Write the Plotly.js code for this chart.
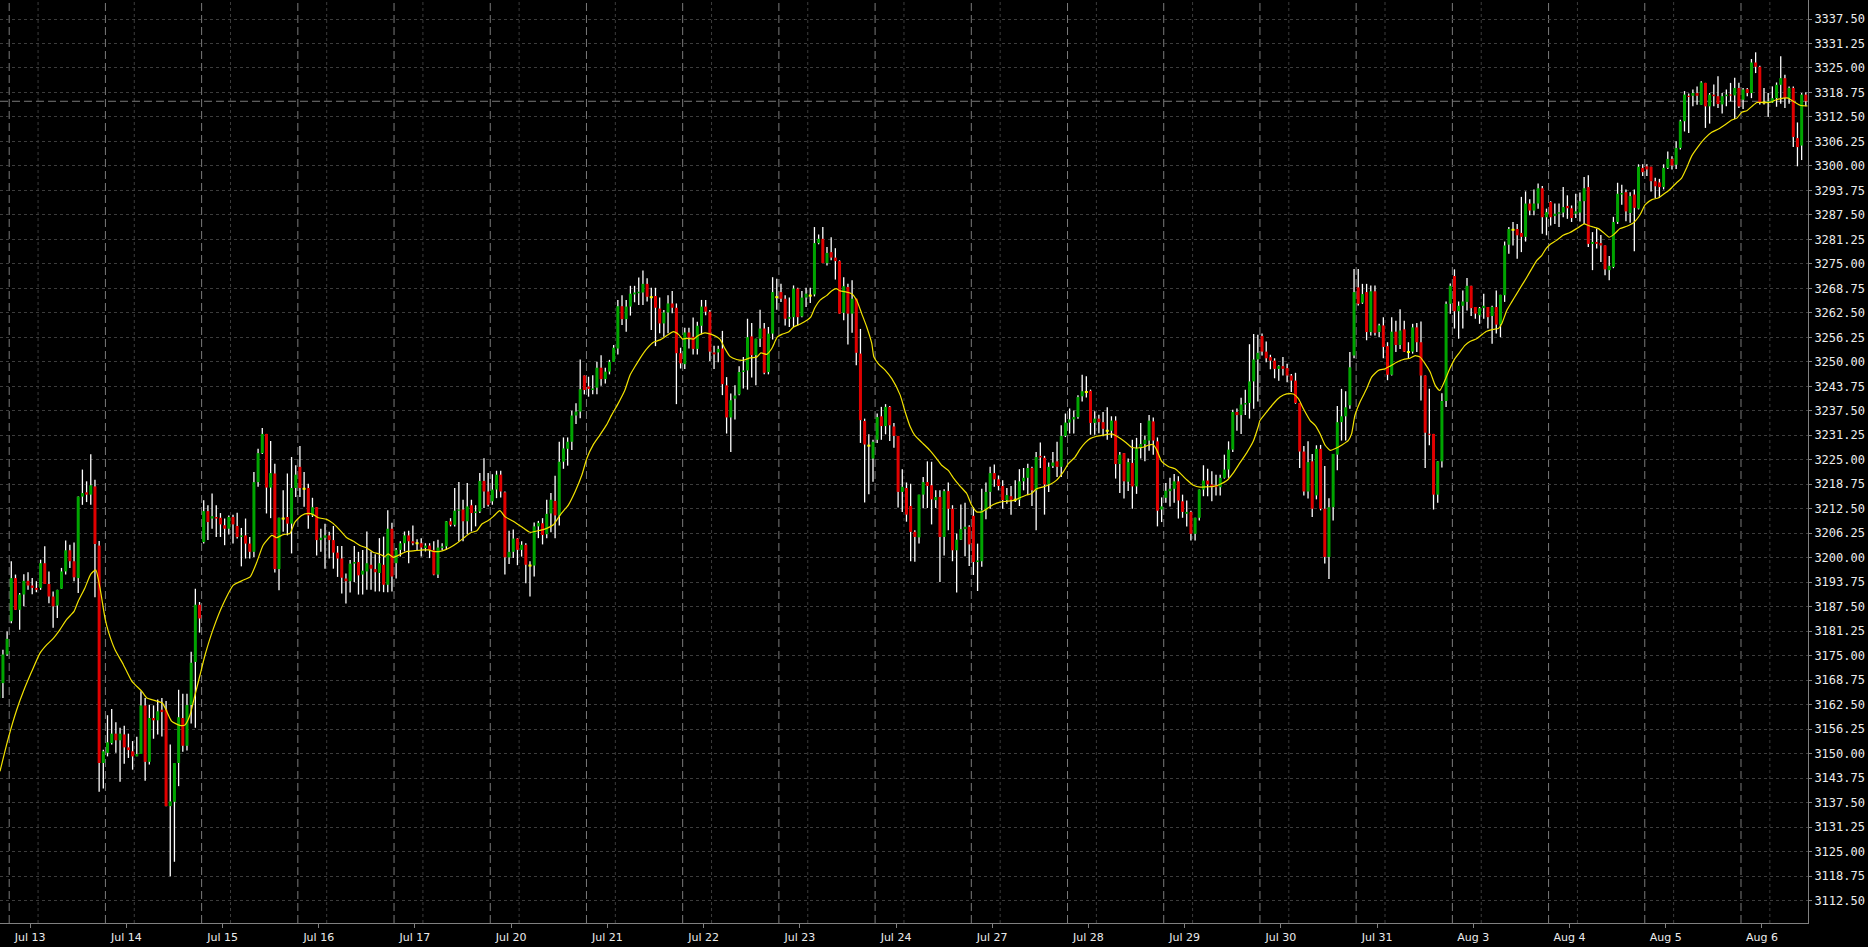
<!DOCTYPE html>
<html>
<head>
<meta charset="utf-8">
<script src="https://cdn.plot.ly/plotly-3.0.1.min.js"></script>
<style>
html,body{margin:0;padding:0;background:#000;}
#chart{width:1868px;height:947px;}
</style>
</head>
<body>
<div id="chart"></div>
<script>
// ---------- DATA (hourly bars) ----------
const dayLabels = ["Jul 13","Jul 14","Jul 15","Jul 16","Jul 17","Jul 20","Jul 21","Jul 22","Jul 23","Jul 24","Jul 27","Jul 28","Jul 29","Jul 30","Jul 31","Aug 3","Aug 4","Aug 5","Aug 6"];
const preBars = 3;   // bars of the previous session visible at the left edge
const barsPerDay = [23,23,23,23,23,23,23,23,23,23,23,23,23,23,23,23,23,23,16];

const open = [
3164.2,3168.0,3175.3,
3183.8,3194.8,3186.7,3190.6,3194.1,3192.9,3192.3,3192.3,3198.6,3193.3,3190.1,3187.8,3192.1,3196.5,3201.9,3199.1,3194.8,3215.6,3216.7,3216.1,3218.2,3203.1,3147.6,
3150.2,3152.7,3155.1,3153.4,3154.9,3151.6,3150.6,3149.3,3149.9,3162.3,3147.9,3159.1,3158.5,3161.2,3161.2,3136.6,3137.7,3147.6,3159.1,3152.0,3162.4,3173.4,3188.0,
3204.0,3211.9,3210.0,3210.4,3210.2,3208.3,3207.4,3210.4,3208.1,3205.3,3205.7,3203.6,3201.5,3219.3,3226.7,3231.6,3217.9,3221.5,3197.1,3210.0,3210.4,3208.7,3217.8,
3223.2,3217.6,3217.8,3210.8,3212.9,3204.5,3205.1,3205.7,3204.5,3201.3,3199.8,3194.7,3194.0,3198.5,3198.9,3195.7,3196.5,3198.2,3197.1,3196.1,3198.2,3193.1,3207.4,
3198.6,3202.0,3203.7,3205.7,3204.2,3203.7,3203.7,3202.5,3203.1,3202.0,3195.7,3202.5,3202.9,3209.3,3208.4,3212.0,3212.3,3209.3,3213.4,3211.4,3211.8,3219.6,3216.9,
3214.4,3217.4,3221.2,3216.7,3200.1,3201.5,3204.9,3202.0,3203.3,3198.0,3198.0,3208.0,3208.8,3206.0,3211.3,3214.5,3210.8,3224.5,3227.8,3229.6,3236.3,3237.3,3246.5,
3243.7,3242.8,3243.4,3248.5,3245.6,3247.5,3250.0,3253.4,3264.2,3260.9,3264.1,3267.2,3267.5,3267.7,3269.9,3266.5,3266.8,3263.6,3259.8,3262.6,3264.9,3263.8,3252.2,
3249.4,3257.5,3256.4,3253.3,3259.2,3264.1,3262.8,3252.4,3252.4,3253.4,3244.0,3235.8,3240.6,3241.7,3247.4,3247.8,3256.5,3251.7,3255.9,3258.5,3247.4,3257.2,3266.5,
3267.8,3266.1,3261.0,3261.4,3268.7,3261.6,3266.4,3266.9,3267.2,3280.3,3281.4,3275.2,3278.0,3276.6,3275.7,3262.5,3269.1,3262.3,3266.1,3252.1,3234.9,3228.6,3225.3,
3230.1,3236.1,3233.6,3238.5,3233.5,3231.1,3216.8,3217.8,3213.2,3206.6,3205.2,3216.1,3219.3,3218.5,3214.7,3215.5,3205.3,3217.0,3212.5,3201.9,3204.6,3207.3,3207.9,
3210.7,3198.9,3199.1,3212.1,3216.8,3221.6,3220.0,3218.3,3214.7,3215.7,3214.8,3214.8,3219.5,3220.4,3222.9,3217.2,3226.0,3225.5,3218.7,3223.4,3224.6,3223.2,3231.1,
3234.5,3235.3,3235.9,3241.2,3242.3,3242.6,3234.4,3235.5,3234.6,3232.4,3232.4,3235.0,3223.9,3226.7,3219.4,3224.2,3218.2,3228.0,3229.0,3229.9,3234.8,3229.7,3212.3,
3215.3,3217.0,3217.6,3219.5,3214.4,3211.2,3211.7,3206.1,3210.2,3217.4,3219.7,3218.7,3218.5,3218.0,3220.4,3222.5,3227.6,3237.2,3236.4,3239.1,3239.5,3245.0,3250.6,
3256.6,3252.6,3251.2,3250.3,3248.2,3248.9,3248.4,3246.5,3245.2,3239.5,3227.1,3216.9,3224.6,3215.9,3227.8,3212.5,3200.2,3212.9,3226.3,3234.6,3236.1,3238.9,3251.6,
3269.0,3265.1,3267.8,3257.6,3268.0,3257.6,3259.3,3254.0,3246.7,3257.7,3254.3,3258.3,3252.5,3252.6,3258.8,3255.0,3246.5,3231.6,3231.6,3216.1,3224.6,3240.0,3264.8,
3271.9,3262.9,3264.3,3265.3,3269.4,3264.0,3261.9,3263.7,3264.0,3261.7,3264.0,3259.5,3267.0,3279.9,3283.7,3283.9,3282.9,3281.9,3290.4,3288.6,3290.4,3294.3,3286.9,
3290.8,3287.2,3287.8,3288.1,3289.8,3289.2,3287.8,3288.1,3291.0,3294.6,3280.1,3280.6,3280.3,3279.7,3273.4,3274.2,3285.7,3292.7,3293.3,3288.0,3292.7,3289.1,3299.5,
3299.9,3299.8,3296.1,3295.8,3294.6,3299.5,3301.8,3300.3,3304.6,3311.4,3317.9,3317.9,3318.6,3315.6,3321.2,3315.2,3318.2,3317.8,3315.7,3317.8,3318.2,3318.0,3319.9,
3316.9,3319.6,3318.6,3326.4,3325.3,3316.2,3316.1,3316.2,3317.3,3320.7,3322.4,3317.3,3319.9,3307.1,3305.2,3318.2
];
const high = [
3170.2,3176.5,3181.2,
3199.1,3195.7,3191.0,3195.8,3196.3,3194.8,3194.0,3199.5,3202.9,3196.5,3191.4,3191.8,3197.4,3204.4,3203.3,3203.9,3215.6,3222.5,3219.5,3226.4,3219.9,3204.3,3151.0,
3159.8,3161.4,3158.0,3156.6,3157.1,3155.1,3153.2,3154.3,3165.9,3164.2,3162.5,3162.3,3163.8,3164.2,3163.4,3152.3,3147.6,3166.3,3165.3,3165.3,3176.0,3192.1,3188.7,
3214.7,3213.4,3216.4,3213.4,3211.4,3210.0,3210.8,3211.0,3211.5,3207.6,3210.0,3205.3,3221.9,3227.8,3233.1,3231.6,3229.8,3224.0,3210.2,3217.2,3221.5,3225.7,3223.6,
3228.5,3221.9,3218.9,3215.3,3212.9,3207.4,3208.7,3206.6,3208.1,3203.0,3203.0,3196.0,3199.4,3203.0,3201.5,3202.0,3206.7,3201.6,3200.9,3205.0,3205.4,3212.1,3208.9,
3202.5,3204.2,3206.7,3206.9,3208.2,3204.7,3205.0,3203.7,3203.7,3204.2,3204.6,3203.7,3209.4,3210.1,3217.8,3219.3,3214.8,3219.1,3214.8,3213.4,3221.6,3225.4,3221.6,
3221.3,3222.2,3222.2,3216.9,3206.9,3207.2,3205.0,3204.2,3203.7,3199.1,3209.0,3209.4,3210.1,3214.8,3216.5,3220.9,3229.6,3230.7,3230.7,3237.5,3239.4,3250.6,3246.5,
3246.2,3246.6,3250.0,3251.7,3248.5,3250.5,3254.3,3265.8,3267.0,3265.8,3269.4,3269.4,3271.5,3273.3,3271.3,3268.9,3268.9,3266.4,3263.2,3267.0,3268.1,3264.9,3253.6,
3258.7,3258.7,3261.3,3260.2,3265.8,3265.8,3263.2,3254.1,3254.1,3257.9,3246.1,3241.9,3244.0,3248.9,3251.2,3261.0,3259.9,3255.9,3263.3,3259.9,3258.9,3271.6,3271.2,
3269.9,3267.0,3266.4,3269.5,3268.9,3268.1,3268.9,3268.9,3284.4,3282.5,3284.4,3279.3,3281.8,3279.0,3275.9,3271.6,3269.9,3270.8,3266.1,3258.4,3235.5,3231.5,3230.1,
3236.8,3238.5,3239.2,3238.7,3234.4,3231.1,3222.6,3219.2,3218.9,3207.0,3216.1,3220.6,3224.6,3224.5,3217.2,3217.2,3217.5,3219.2,3213.4,3206.2,3213.6,3214.0,3208.3,
3212.9,3203.6,3217.6,3219.2,3223.2,3223.8,3221.0,3219.8,3217.8,3218.3,3219.8,3222.6,3222.9,3224.0,3223.2,3227.0,3229.4,3226.0,3224.3,3227.0,3229.6,3233.8,3236.8,
3238.1,3237.6,3241.5,3246.7,3246.3,3242.9,3237.4,3236.5,3237.2,3238.4,3236.1,3236.1,3227.0,3226.7,3225.3,3230.1,3230.6,3234.4,3231.2,3236.4,3235.8,3230.7,3215.4,
3219.1,3220.4,3221.4,3220.8,3216.1,3214.6,3212.0,3210.2,3217.4,3223.6,3222.7,3222.1,3221.2,3221.2,3226.3,3229.7,3237.8,3238.1,3240.8,3242.9,3254.5,3257.1,3256.9,
3257.2,3255.2,3251.8,3250.9,3249.1,3251.2,3249.5,3246.9,3247.2,3239.5,3228.5,3229.7,3226.5,3228.7,3228.8,3223.4,3215.2,3226.5,3238.7,3243.1,3242.5,3252.5,3273.7,
3273.7,3269.9,3269.9,3269.5,3269.5,3259.7,3261.4,3255.0,3261.4,3260.5,3263.4,3260.5,3255.0,3259.7,3259.9,3260.3,3246.5,3243.1,3231.6,3224.6,3242.0,3265.4,3270.0,
3273.6,3265.4,3268.2,3271.4,3269.4,3264.0,3264.0,3267.4,3264.0,3264.3,3268.2,3267.1,3280.7,3284.4,3285.7,3285.2,3292.1,3293.5,3291.5,3294.0,3295.5,3294.9,3289.1,
3291.0,3290.4,3290.4,3294.6,3292.5,3289.9,3292.9,3293.2,3297.2,3297.6,3283.1,3284.0,3282.4,3279.7,3277.0,3287.0,3295.7,3295.2,3294.0,3293.3,3294.0,3300.4,3300.4,
3300.4,3299.8,3297.0,3296.7,3300.4,3303.7,3302.5,3306.3,3311.8,3319.1,3318.5,3319.5,3320.3,3321.6,3321.2,3318.6,3320.8,3322.9,3318.6,3319.5,3321.2,3322.5,3321.2,
3319.9,3319.9,3327.3,3329.0,3325.6,3319.9,3318.6,3320.3,3321.3,3328.0,3323.3,3320.3,3320.3,3311.1,3318.6,3318.8
];
const low = [
3160.8,3164.2,3175.0,
3183.3,3186.7,3181.6,3187.6,3191.8,3190.7,3191.2,3191.8,3193.3,3188.4,3182.1,3184.6,3192.1,3195.7,3197.4,3194.0,3191.0,3213.5,3214.2,3213.5,3189.9,3140.3,3141.1,
3149.3,3152.3,3150.2,3142.8,3147.4,3148.9,3145.9,3149.3,3149.9,3143.1,3147.2,3153.8,3154.9,3154.4,3136.6,3118.7,3122.4,3141.7,3150.5,3150.8,3157.7,3156.6,3180.9,
3203.6,3204.5,3207.4,3205.3,3205.3,3203.2,3205.9,3203.6,3204.9,3197.8,3199.8,3199.8,3200.2,3218.1,3226.5,3211.3,3210.1,3196.2,3191.7,3206.6,3205.7,3201.1,3215.5,
3215.5,3213.0,3207.4,3210.4,3200.6,3201.5,3197.2,3199.8,3197.2,3195.1,3190.9,3188.3,3191.1,3193.8,3190.6,3190.6,3191.8,3191.8,3191.4,3191.4,3191.2,3191.2,3191.4,
3194.7,3200.3,3201.6,3198.6,3203.2,3202.0,3200.3,3201.6,3199.9,3195.5,3194.8,3202.0,3202.0,3208.0,3208.0,3204.2,3204.2,3206.0,3206.7,3208.0,3211.4,3212.7,3213.1,
3213.5,3215.2,3215.4,3195.7,3198.4,3199.9,3198.1,3200.3,3193.5,3190.1,3195.2,3205.0,3203.4,3205.0,3206.5,3205.0,3208.2,3222.7,3223.5,3227.5,3234.1,3235.6,3241.7,
3241.1,3241.7,3241.7,3243.9,3244.5,3246.8,3250.0,3251.9,3259.4,3257.7,3261.8,3265.2,3264.5,3264.5,3265.4,3258.1,3254.0,3257.3,3256.4,3257.3,3262.4,3239.2,3248.3,
3248.2,3253.4,3251.9,3251.9,3257.0,3261.9,3250.2,3248.2,3249.9,3241.5,3231.7,3227.0,3235.3,3241.5,3243.2,3242.9,3246.0,3244.0,3253.8,3246.8,3246.8,3255.7,3263.3,
3265.3,3259.3,3258.9,3258.9,3259.3,3261.4,3264.0,3265.0,3266.7,3280.0,3275.2,3274.6,3275.9,3271.0,3262.3,3260.6,3254.4,3257.4,3249.1,3229.3,3214.1,3216.2,3219.4,
3229.3,3230.1,3231.5,3229.8,3228.1,3212.8,3211.7,3209.2,3199.1,3199.0,3203.6,3212.6,3212.7,3208.5,3212.7,3193.8,3200.6,3207.0,3199.1,3191.1,3204.5,3200.4,3197.9,
3195.6,3191.5,3197.7,3209.8,3212.5,3218.1,3217.2,3212.5,3213.8,3211.0,3214.2,3213.2,3217.2,3216.0,3213.2,3207.0,3222.9,3211.0,3216.8,3222.9,3220.6,3220.6,3230.8,
3231.7,3231.7,3235.5,3239.9,3240.9,3231.4,3231.4,3231.8,3231.0,3230.1,3230.6,3220.2,3216.5,3215.1,3217.0,3212.5,3216.3,3225.3,3224.6,3227.3,3226.3,3208.0,3209.1,
3214.0,3213.1,3214.0,3210.0,3210.2,3208.0,3204.4,3204.4,3209.5,3215.7,3215.7,3214.4,3215.9,3215.9,3220.2,3220.4,3227.0,3232.4,3231.6,3236.4,3235.5,3238.0,3239.9,
3251.6,3249.9,3248.1,3245.8,3245.2,3246.5,3244.8,3242.3,3239.3,3222.9,3215.9,3215.1,3210.4,3214.9,3212.1,3198.5,3194.6,3209.5,3222.3,3229.9,3229.9,3238.0,3250.9,
3264.4,3264.8,3255.5,3256.7,3256.7,3256.3,3250.9,3245.3,3246.5,3252.5,3253.3,3252.5,3250.9,3252.1,3252.5,3240.1,3222.9,3228.7,3212.3,3214.0,3223.0,3238.5,3262.3,
3258.5,3255.9,3258.5,3263.1,3261.7,3261.0,3259.7,3261.0,3258.5,3254.6,3257.2,3256.3,3265.3,3277.6,3279.7,3276.3,3278.0,3280.7,3287.4,3287.4,3289.1,3282.7,3282.3,
3284.8,3285.2,3284.4,3286.9,3286.5,3285.7,3286.7,3285.8,3285.2,3279.3,3273.4,3278.9,3275.5,3272.1,3270.8,3273.9,3285.2,3290.1,3285.9,3285.5,3278.2,3288.9,3297.4,
3297.4,3293.5,3291.8,3291.8,3294.0,3299.2,3299.1,3299.2,3304.2,3308.8,3308.4,3315.2,3315.6,3315.6,3309.7,3310.8,3315.2,3314.8,3313.4,3315.2,3316.5,3312.0,3314.8,
3314.5,3317.8,3317.3,3323.7,3315.7,3315.7,3312.5,3316.1,3315.1,3315.9,3314.8,3315.9,3304.8,3299.9,3301.5,3315.2
];
const close = [
3168.5,3175.3,3179.3,
3194.8,3186.7,3190.6,3194.1,3192.9,3192.3,3191.8,3198.6,3193.3,3190.1,3187.6,3191.8,3196.5,3201.9,3199.1,3195.0,3215.6,3216.5,3216.1,3218.5,3203.5,3147.6,3150.6,
3152.9,3155.1,3153.4,3155.1,3151.6,3150.9,3149.3,3149.9,3162.3,3147.9,3159.1,3158.5,3160.8,3160.6,3136.6,3137.8,3147.6,3159.3,3152.0,3162.4,3173.2,3188.0,3184.5,
3211.9,3209.1,3210.6,3210.0,3208.5,3207.4,3210.4,3208.5,3205.3,3205.7,3203.6,3201.5,3219.3,3226.7,3231.6,3217.9,3221.6,3197.1,3210.2,3210.0,3208.7,3217.8,3221.2,
3217.8,3217.6,3210.8,3212.9,3204.5,3205.1,3205.7,3204.5,3201.3,3199.8,3194.9,3194.0,3198.5,3198.9,3195.5,3196.7,3198.6,3197.2,3196.3,3198.6,3193.1,3207.4,3195.2,
3202.0,3203.7,3205.7,3204.2,3203.7,3203.7,3202.6,3203.1,3202.0,3195.7,3202.6,3202.9,3209.3,3208.4,3212.0,3212.3,3209.3,3213.1,3211.4,3211.8,3219.6,3216.9,3213.5,
3217.4,3221.2,3216.9,3200.1,3201.5,3204.9,3202.0,3203.3,3198.2,3198.0,3208.0,3208.9,3205.8,3211.2,3214.8,3210.8,3224.5,3227.9,3229.6,3236.3,3237.3,3243.0,3242.8,
3243.1,3243.2,3248.5,3245.6,3247.5,3250.0,3253.6,3264.2,3260.9,3264.1,3267.4,3267.7,3267.9,3269.9,3266.6,3266.5,3263.8,3259.8,3262.6,3264.9,3263.8,3252.2,3249.6,
3257.5,3256.2,3253.3,3259.2,3264.1,3262.8,3252.6,3251.9,3253.3,3244.3,3235.8,3240.2,3241.4,3247.4,3247.8,3256.3,3251.7,3255.9,3258.5,3247.2,3257.2,3267.8,3266.5,
3266.1,3261.0,3261.4,3268.7,3261.4,3266.4,3267.4,3266.9,3280.3,3281.4,3275.2,3277.8,3276.6,3275.7,3262.3,3269.3,3262.3,3266.1,3252.3,3235.1,3228.9,3228.6,3229.6,
3235.9,3233.6,3238.5,3233.8,3231.1,3216.8,3218.1,3211.0,3206.6,3205.3,3216.1,3219.3,3218.3,3214.9,3215.5,3205.3,3217.0,3212.5,3201.9,3204.6,3207.3,3207.9,3203.4,
3198.9,3199.3,3212.1,3216.8,3221.6,3220.0,3218.3,3214.7,3216.0,3214.8,3214.8,3219.5,3220.4,3222.9,3217.2,3225.7,3225.6,3218.7,3223.2,3224.3,3223.2,3231.1,3234.5,
3235.3,3235.9,3241.0,3242.5,3242.3,3234.4,3235.5,3234.6,3232.9,3232.4,3235.0,3223.9,3226.3,3219.5,3224.4,3218.2,3227.9,3229.0,3230.1,3235.0,3229.9,3212.0,3213.1,
3217.1,3217.6,3219.5,3214.6,3211.7,3211.7,3206.1,3210.2,3217.4,3219.7,3218.7,3218.0,3218.0,3220.4,3222.5,3227.6,3237.2,3236.4,3239.1,3239.5,3245.0,3250.6,3252.3,
3252.6,3250.9,3250.3,3248.2,3248.9,3248.2,3246.5,3245.2,3239.5,3227.1,3216.9,3224.4,3212.5,3227.8,3212.5,3200.2,3212.9,3226.5,3234.6,3236.1,3238.4,3248.6,3267.8,
3264.8,3267.3,3257.6,3268.0,3257.4,3259.3,3253.8,3246.7,3257.7,3254.3,3258.0,3252.6,3252.5,3258.8,3255.0,3246.5,3231.9,3231.4,3216.1,3224.6,3240.0,3264.8,3269.4,
3262.9,3264.3,3265.4,3269.4,3263.7,3262.3,3263.7,3264.3,3261.4,3264.0,3259.5,3267.1,3279.7,3283.9,3283.7,3282.3,3281.9,3290.4,3288.6,3290.4,3294.3,3286.9,3288.2,
3286.9,3287.8,3288.2,3289.5,3289.2,3286.7,3288.4,3291.0,3294.3,3280.1,3280.6,3280.1,3279.7,3273.6,3274.5,3285.7,3292.9,3293.1,3288.4,3292.3,3289.3,3299.8,3298.4,
3299.1,3296.1,3294.8,3294.6,3299.5,3301.8,3300.1,3304.6,3311.4,3318.2,3317.6,3318.6,3317.9,3321.3,3315.2,3318.2,3317.8,3315.8,3317.8,3318.2,3318.0,3319.9,3315.2,
3319.5,3318.6,3326.4,3325.3,3316.1,3316.2,3316.5,3317.3,3320.7,3322.4,3317.3,3319.9,3307.4,3304.8,3318.2,3316.5
];

// moving average line (bar position, price)
const maIdx = [0.3,2.3,4.3,5.9,7.9,9.9,11.5,13.1,14.6,16.2,18.0,19.0,20.6,22.0,23.2,24.2,25.4,26.2,27.8,29.8,31.8,34.2,35.4,39.1,41.3,43.3,
44.5,45.7,46.9,48.1,49.3,51.3,53.7,56.1,58.5,60.1,61.7,63.2,65.3,66.4,68.0,69.6,70.8,72.4,74.0,75.2,76.4,78.4,80.0,81.6,83.2,84.8,86.4,
88.0,89.5,91.1,92.3,93.1,94.3,95.9,97.5,99.5,101.5,102.7,103.9,105.5,106.7,107.9,109.5,111.1,112.7,114.3,115.5,117.0,118.2,119.8,121.0,123.0,125.4,127.0,129.4,
131.0,132.6,134.2,136.2,137.8,139.4,140.6,142.1,143.7,145.3,146.5,148.1,149.7,150.9,152.1,153.3,154.9,156.5,158.1,159.7,161.3,162.5,163.5,164.5,166.1,167.2,168.8,170.4,172.4,
173.6,174.8,176.4,178.0,179.6,181.2,182.2,183.6,184.8,186.1,187.2,188.8,190.0,191.5,193.2,194.1,195.1,196.3,197.9,199.1,200.2,201.1,202.7,203.9,205.1,206.3,207.5,208.7,209.2,210.3,211.9,213.5,215.5,
216.7,217.9,219.0,221.0,222.6,224.2,225.4,227.0,228.2,229.8,231.4,232.6,233.8,235.0,236.2,237.8,239.4,241.0,242.9,244.1,245.7,246.9,248.1,249.7,251.3,252.9,254.5,255.7,257.3,258.5,
259.7,260.9,262.5,264.1,266.1,267.3,268.5,269.6,270.8,272.0,273.6,274.8,275.9,276.8,278.0,279.6,281.2,282.4,284.0,285.6,287.2,288.8,290.4,291.9,293.6,295.1,296.7,298.3,299.9,301.1,
301.5,303.1,304.7,306.3,307.9,309.5,310.7,311.9,313.5,314.7,315.9,317.1,318.3,319.4,321.1,322.6,323.4,324.2,325.4,327.0,328.2,329.8,331.4,332.6,334.2,335.8,337.4,338.6,339.8,341.0,342.2,343.4,344.5,
346.9,348.1,349.3,350.5,351.7,353.3,354.5,355.7,357.3,358.5,359.3,360.5,361.7,362.9,364.1,365.3,366.5,367.7,368.9,369.9,370.8,372.4,374.0,375.6,377.2,379.0,380.0,381.2,382.4,383.6,385.0,386.0,387.6,
389.2,390.8,392.4,393.6,395.2,396.7,397.9,399.5,401.1,402.3,403.5,404.7,406.3,407.9,409.5,411.1,412.7,414.3,415.5,416.7,417.9,419.1,420.3,421.8,423.4,425.0,426.6,427.8,429.0,430.6,432.4];
const maVal = [3145.5,3154.0,3161.2,3165.9,3171.0,3175.7,3177.8,3179.5,3181.6,3184.2,3186.3,3188.9,3192.3,3195.8,3196.9,3192.3,3184.6,3181.2,3176.5,3172.7,3168.5,3165.9,3164.2,3162.9,3158.3,3157.2,
3157.3,3159.8,3164.9,3170.0,3175.1,3181.9,3188.3,3193.0,3194.3,3195.1,3198.9,3203.2,3205.7,3205.1,3205.9,3206.2,3209.1,3210.8,3211.3,3211.0,3210.2,3209.8,3208.7,3207.0,3205.1,3204.2,3203.1,
3202.5,3201.4,3200.9,3200.3,3201.0,3200.1,3200.8,3201.6,3201.8,3202.0,3202.0,3201.6,3201.6,3202.0,3202.6,3203.7,3205.0,3206.3,3206.9,3208.6,3209.5,3210.5,3212.0,3210.5,3209.3,3207.6,3206.5,3207.0,
3207.5,3208.4,3210.9,3213.5,3216.9,3221.1,3225.4,3228.8,3231.3,3233.9,3236.4,3239.4,3242.8,3246.6,3248.8,3250.9,3253.3,3255.0,3255.6,3256.7,3257.7,3257.0,3255.8,3256.0,3255.8,3256.7,3257.4,3257.0,3255.8,
3253.4,3251.4,3250.6,3250.4,3251.0,3251.2,3252.3,3251.9,3253.4,3256.3,3257.0,3257.6,3258.9,3259.6,3260.6,3261.4,3263.8,3265.7,3266.9,3268.1,3268.7,3268.1,3267.8,3267.4,3265.7,3262.3,3258.9,3254.7,3251.3,3249.5,3247.9,3245.7,3241.5,
3237.2,3233.4,3231.2,3229.1,3227.4,3225.3,3223.6,3222.3,3220.4,3218.3,3216.4,3213.4,3211.7,3211.7,3212.5,3213.6,3214.2,3214.4,3214.7,3215.3,3216.0,3216.4,3217.6,3218.1,3218.7,3219.8,3221.9,3224.0,3225.7,3227.7,
3229.3,3230.4,3231.0,3231.3,3231.6,3231.0,3230.2,3229.3,3228.2,3228.0,3228.2,3228.7,3228.9,3227.6,3224.6,3223.3,3222.7,3221.6,3219.9,3218.5,3218.0,3218.1,3218.2,3218.7,3219.7,3221.6,3224.2,3226.7,3229.7,3233.5,
3235.0,3237.2,3239.3,3241.0,3241.8,3241.8,3240.6,3238.0,3235.0,3233.8,3231.6,3228.7,3227.4,3227.8,3228.8,3229.9,3231.6,3236.3,3239.7,3243.1,3246.1,3247.8,3248.2,3248.9,3249.9,3250.6,3250.9,3251.6,3251.2,3249.5,3247.4,3244.0,3242.7,
3248.3,3250.8,3252.5,3254.2,3255.2,3255.9,3256.9,3257.8,3258.3,3258.5,3259.7,3263.1,3265.3,3267.4,3269.5,3271.6,3273.8,3275.9,3277.2,3278.9,3279.9,3281.0,3282.3,3283.0,3284.0,3285.2,3284.8,3284.4,3284.0,3283.0,3281.8,3282.4,3284.0,
3284.6,3285.5,3287.6,3290.1,3291.4,3291.8,3292.7,3294.0,3295.7,3296.9,3299.5,3302.5,3305.0,3307.1,3308.6,3309.4,3310.5,3311.7,3312.2,3313.7,3314.1,3315.2,3316.2,3316.2,3316.2,3316.9,3317.3,3317.3,3316.5,3315.5,3315.3];

// ---------- STYLE ----------
const C_UP = '#00a400', C_DN = '#e00000', C_DOJI = '#ffff00', C_WICK = '#ffffff';
const C_MA = '#f2e200', C_GRID = '#3c3c3c', C_SEP = '#7a7a7a', C_FRAME = '#808080', C_TEXT = '#ececec';
const BODY_HALF = 0.36, MIN_BODY = 0.28;

const N = close.length;
if (open.length !== N || high.length !== N || low.length !== N) {
  throw new Error('length mismatch ' + [open.length, high.length, low.length, N].join(','));
}
const totalBars = preBars + barsPerDay.reduce((a, b) => a + b, 0);
if (totalBars !== N) throw new Error('bar count mismatch ' + totalBars + ' vs ' + N);

// day starts
const dayStart = [];
let s = preBars;
for (const n of barsPerDay) { dayStart.push(s); s += n; }

// wicks
const wx = [], wy = [];
for (let i = 0; i < N; i++) { wx.push(i, i, null); wy.push(low[i], high[i], null); }
// bodies
const ux = [], uy = [], dx = [], dy = [], zx = [], zy = [];
for (let i = 0; i < N; i++) {
  const o = open[i], c = close[i];
  if (o === c) { zx.push(i - BODY_HALF, i + BODY_HALF, null); zy.push(o, o, null); continue; }
  let lo = Math.min(o, c), hi = Math.max(o, c);
  if (hi - lo < MIN_BODY) { const m = (hi + lo) / 2; lo = m - MIN_BODY / 2; hi = m + MIN_BODY / 2; }
  if (c > o) { ux.push(i, i, null); uy.push(lo, hi, null); }
  else { dx.push(i, i, null); dy.push(hi, lo, null); }
}

const traces = [
  {type: 'scatter', mode: 'lines', x: wx, y: wy, line: {color: C_WICK, width: 1.3}, hoverinfo: 'skip'},
  {type: 'scatter', mode: 'lines', x: ux, y: uy, line: {color: C_UP, width: 3}, hoverinfo: 'skip'},
  {type: 'scatter', mode: 'lines', x: dx, y: dy, line: {color: C_DN, width: 3}, hoverinfo: 'skip'},
  {type: 'scatter', mode: 'lines', x: zx, y: zy, line: {color: C_DOJI, width: 2}, hoverinfo: 'skip'},
  {type: 'scatter', mode: 'lines', x: maIdx, y: maVal, line: {color: C_MA, width: 1.2, shape: 'spline', smoothing: 0.5}, hoverinfo: 'skip'}
];

const shapes = [];
dayStart.forEach(d => {
  shapes.push({type: 'line', xref: 'x', yref: 'paper', x0: d - 0.5, x1: d - 0.5, y0: 0, y1: 1,
    line: {color: C_SEP, width: 1, dash: '8px,4px'}, layer: 'below'});
  shapes.push({type: 'line', xref: 'x', yref: 'paper', x0: d + 6.4, x1: d + 6.4, y0: 0, y1: 1,
    line: {color: C_GRID, width: 1, dash: '3px,3px'}, layer: 'below'});
});
// current price line
shapes.push({type: 'line', xref: 'paper', yref: 'y', x0: 0, x1: 1, y0: close[N - 1], y1: close[N - 1],
  line: {color: C_SEP, width: 1, dash: '8px,4px'}, layer: 'below'});

const layout = {
  width: 1868, height: 947,
  paper_bgcolor: '#000000', plot_bgcolor: '#000000',
  margin: {l: 0, r: 60, t: 0, b: 24, pad: 0},
  showlegend: false,
  hovermode: false,
  xaxis: {
    range: [0.3, 432.52], showgrid: false, zeroline: false,
    tickmode: 'array', tickvals: dayStart.map(d => d + 4.5), ticktext: dayLabels,
    ticks: 'outside', ticklen: 4, tickcolor: C_FRAME, tickwidth: 1,
    showline: true, linecolor: C_FRAME, linewidth: 1, mirror: true,
    tickfont: {family: 'DejaVu Sans, sans-serif', size: 11, color: C_TEXT}
  },
  yaxis: {
    side: 'right', range: [3106.77, 3342.35],
    tickmode: 'linear', tick0: 3112.5, dtick: 6.25, tickformat: '.2f',
    showgrid: true, gridcolor: C_GRID, griddash: '3px,3px', gridwidth: 1, zeroline: false,
    ticks: 'outside', ticklen: 3, tickcolor: C_FRAME,
    showline: true, linecolor: C_FRAME, linewidth: 1, mirror: true,
    tickfont: {family: 'DejaVu Sans Mono, monospace', size: 12, color: C_TEXT}
  },
  shapes: shapes
};

Plotly.newPlot('chart', traces, layout, {displayModeBar: false, staticPlot: true});
</script>
</body>
</html>
